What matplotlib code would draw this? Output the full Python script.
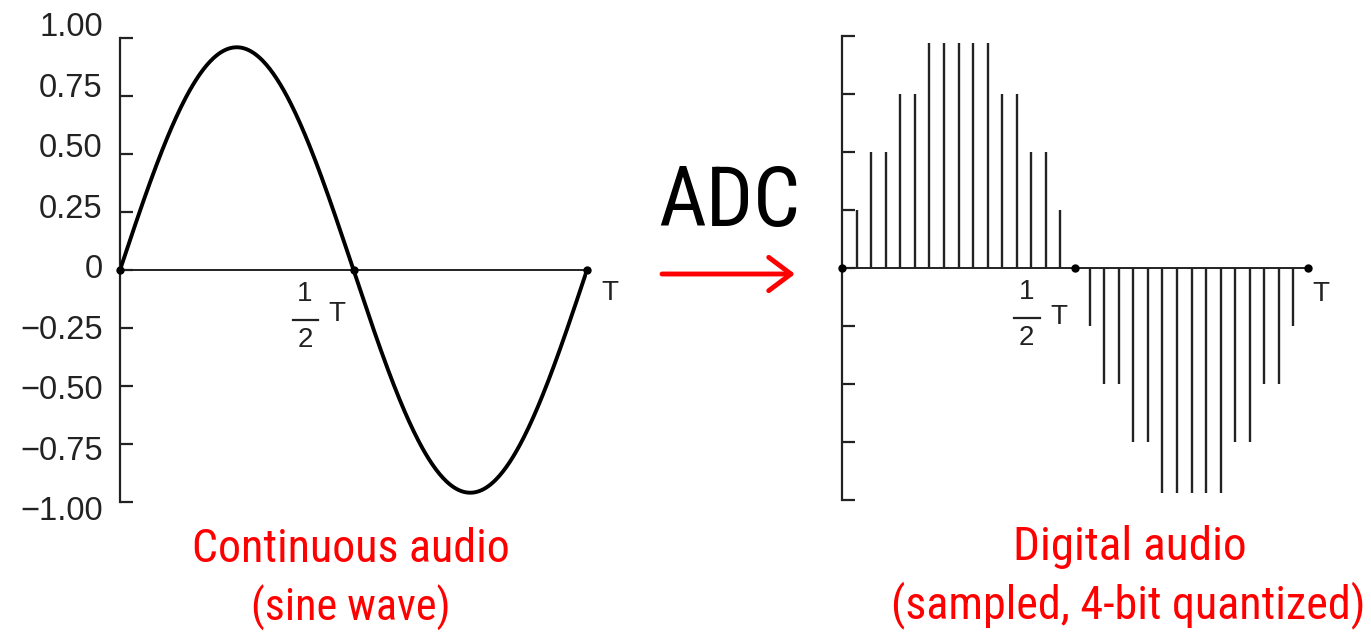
import numpy as np
import matplotlib
matplotlib.use("Agg")
import matplotlib.pyplot as plt
from matplotlib import font_manager as fm
from matplotlib.font_manager import FontProperties
from matplotlib.lines import Line2D

# ---------------- data ----------------
yticks = [1.00, 0.75, 0.50, 0.25, 0, -0.25, -0.50, -0.75, -1.00]
ytick_labels = ["1.00", "0.75", "0.50", "0.25", "0", "\u22120.25", "\u22120.50", "\u22120.75", "\u22121.00"]
sine_amplitude = 0.96
samples_per_period = 32
sample_index = list(range(1, 32))
quantized_values = [0.25, 0.5, 0.5, 0.75, 0.75, 0.97, 0.97, 0.97, 0.97, 0.97, 0.75, 0.75, 0.5, 0.5, 0.25,
                    0.0,
                    -0.25, -0.5, -0.5, -0.75, -0.75, -0.97, -0.97, -0.97, -0.97, -0.97, -0.75, -0.75, -0.5, -0.5, -0.25]
axis_points = [0.0, 0.5, 1.0]
left_title = ["Continuous audio", "(sine wave)"]
right_title = ["Digital audio", "(sampled, 4-bit quantized)"]
middle_label = "ADC"

W, H = 1371, 635
fig = plt.figure(figsize=(W / 100, H / 100), dpi=100)
renderer = fig.canvas.get_renderer()

def pos(x0, x1, ytop, ybot):
    return [x0 / W, (H - ybot) / H, (x1 - x0) / W, (ybot - ytop) / H]

ink = "#222222"
label_font = ['Liberation Sans', 'DejaVu Sans']
red = "#ff0000"


def pick_narrow():
    entries = fm.fontManager.ttflist
    def regular(f):
        return f.style == 'normal' and f.weight in (400, 'normal', 'regular', 'book')
    prefs = ['Liberation Sans Narrow', 'DejaVu Sans Condensed', 'Noto Sans Condensed',
             'Open Sans Condensed', 'Roboto Condensed']
    for p in prefs:
        for f in entries:
            if f.name == p and regular(f):
                return FontProperties(fname=f.fname)
    for f in entries:
        base = f.fname.split('/')[-1].lower()
        if regular(f) and ('condensed' in base or 'narrow' in base) and 'bold' not in base \
                and 'italic' not in base and 'light' not in base and 'semi' not in base \
                and 'extra' not in base and 'medium' not in base and 'thin' not in base \
                and 'black' not in base and 'mono' not in base and 'cjk' not in base:
            return FontProperties(fname=f.fname)
    return FontProperties(family='Roboto')

narrow_fp = pick_narrow()


def fitted_text(x, y, s, target_w, color, ha='center'):
    fp = narrow_fp.copy()
    fp.set_size(40)
    t = fig.text(x / W, 1 - y / H, s, ha=ha, va='baseline', color=color, fontproperties=fp)
    w = t.get_window_extent(renderer).width
    fp2 = narrow_fp.copy()
    fp2.set_size(40 * target_w / w)
    t.set_fontproperties(fp2)
    return t


def style_axis(ax):
    ax.set_xlim(0, 1)
    ax.set_ylim(-1, 1)
    for s in ["top", "right", "bottom"]:
        ax.spines[s].set_visible(False)
    ax.spines["left"].set_linewidth(1.6)
    ax.spines["left"].set_color(ink)
    ax.set_xticks([])
    ax.set_yticks(yticks)
    ax.tick_params(axis='y', direction='in', length=9.5, width=1.6, color=ink, labelleft=False)
    ax.axhline(0, color=ink, lw=1.4, zorder=1)
    ax.plot(axis_points, [0, 0, 0], 'o', color='black', ms=5, zorder=5, clip_on=False)
    ax.patch.set_alpha(0)


def half_T(ax, T_y):
    ax.text(0.396, -0.105, '1', ha='center', va='center', fontsize=20, family=label_font, color=ink)
    ax.add_line(Line2D([0.370, 0.424], [-0.216, -0.216], color=ink, lw=1.6))
    ax.text(0.396, -0.30, '2', ha='center', va='center', fontsize=20, family=label_font, color=ink)
    ax.text(0.465, T_y, 'T', ha='center', va='center', fontsize=20, family=label_font, color=ink)

# ---------------- left: continuous ----------------
axL = fig.add_axes(pos(120, 587, 38, 502))
style_axis(axL)
t = np.linspace(0, 1, 400)
axL.plot(t, sine_amplitude * np.sin(2 * np.pi * t), color='black', lw=2.8, zorder=4)
half_T(axL, -0.19)
axL.text(1.049, -0.10, 'T', ha='center', va='center', fontsize=20, family=label_font, color=ink)

# label-only axis for tick labels
axLab = fig.add_axes(pos(120, 587, 24.5, 508))
axLab.set_ylim(-1, 1)
axLab.set_xlim(0, 1)
for s in axLab.spines.values():
    s.set_visible(False)
axLab.set_xticks([])
axLab.set_yticks(yticks)
axLab.set_yticklabels(ytick_labels, family=label_font, fontsize=23.5, color=ink)
axLab.tick_params(axis='y', length=0, pad=12.5)
axLab.patch.set_alpha(0)

# ---------------- right: digital ----------------
axR = fig.add_axes(pos(842, 1308, 36, 500))
style_axis(axR)
xs = np.array(sample_index) / samples_per_period
axR.vlines(xs, 0, quantized_values, color=ink, lw=1.7, zorder=3)
half_T(axR, -0.21)
axR.text(1.028, -0.11, 'T', ha='center', va='center', fontsize=20, family=label_font, color=ink)

# ---------------- texts & arrow ----------------
fitted_text(351, 562, left_title[0], 318, red)
fitted_text(351, 621, left_title[1], 200, red)
fitted_text(1130, 560, right_title[0], 234, red)
fitted_text(1128, 618, right_title[1], 474, red)
fitted_text(729, 226, middle_label, 142, 'black')

fig.add_artist(matplotlib.patches.FancyArrowPatch(
    (662 / W, 1 - 274 / H), (795 / W, 1 - 274 / H), transform=fig.transFigure,
    arrowstyle='->,head_length=0.8,head_width=0.6', mutation_scale=20,
    color=red, lw=3.5, shrinkA=0, shrinkB=0))

fig.savefig("out.png", dpi=100)
